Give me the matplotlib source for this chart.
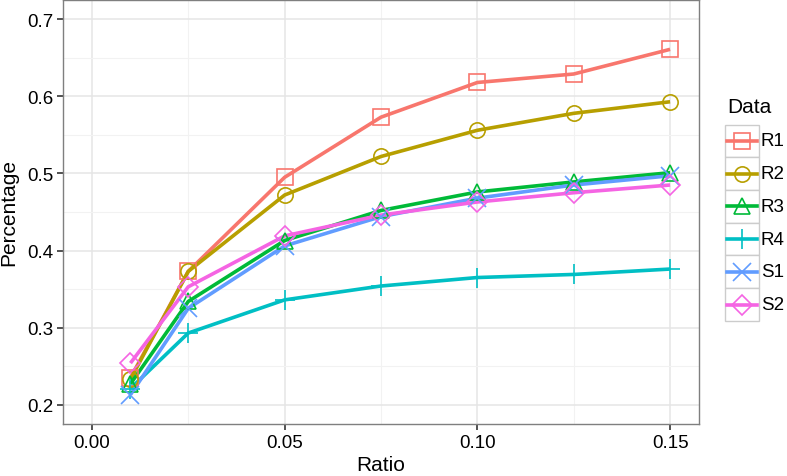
import matplotlib
matplotlib.use('Agg')
import matplotlib.pyplot as plt
from matplotlib.patches import Rectangle
from matplotlib.lines import Line2D

plt.rcParams['font.family'] = ['Liberation Sans', 'DejaVu Sans']

ratio = [0.01, 0.025, 0.05, 0.075, 0.10, 0.125, 0.15]
R1 = [0.235, 0.373, 0.495, 0.573, 0.618, 0.629, 0.661]
R2 = [0.233, 0.373, 0.472, 0.522, 0.556, 0.578, 0.593]
R3 = [0.227, 0.334, 0.413, 0.452, 0.476, 0.489, 0.501]
R4 = [0.221, 0.293, 0.336, 0.354, 0.365, 0.369, 0.376]
S1 = [0.213, 0.325, 0.406, 0.444, 0.468, 0.485, 0.497]
S2 = [0.254, 0.353, 0.419, 0.446, 0.463, 0.475, 0.485]

names = ['R1', 'R2', 'R3', 'R4', 'S1', 'S2']
series = [R1, R2, R3, R4, S1, S2]
colors = ['#F8766D', '#B79F00', '#00BA38', '#00BFC4', '#619CFF', '#F564E3']
markers = ['s', 'o', '^', '+', 'x', 'D']
msizes = [11, 11, 12, 15, 13, 10]

W, H = 787, 477
fig = plt.figure(figsize=(W / 100, H / 100), dpi=100)
ax = fig.add_axes([63 / W, 1 - 425 / H, (699 - 63) / W, (425 - 1) / H])

for name, vals, c in zip(names, series, colors):
    ax.plot(ratio, vals, color=c, lw=2.6, zorder=3, solid_capstyle='butt')
for name, vals, c, m, ms in zip(names, series, colors, markers, msizes):
    ax.plot(ratio, vals, ls='none', marker=m, ms=ms, mfc='none', mec=c,
            mew=1.2, zorder=4)

ax.set_xlim(-0.0075, 0.1575)
ax.set_ylim(0.175, 0.725)
ax.set_xticks([0.0, 0.05, 0.10, 0.15])
ax.set_xticklabels(['0.00', '0.05', '0.10', '0.15'])
ax.set_yticks([0.2, 0.3, 0.4, 0.5, 0.6, 0.7])
ax.set_xticks([0.025, 0.075, 0.125], minor=True)
ax.set_yticks([0.25, 0.35, 0.45, 0.55, 0.65], minor=True)
ax.grid(True, which='major', color='#E5E5E5', lw=1.1, zorder=0)
ax.grid(True, which='minor', color='#F2F2F2', lw=0.8, zorder=0)
ax.set_axisbelow(True)
ax.tick_params(which='major', length=4, width=1.2, color='#333333',
               labelsize=13.5, labelcolor='black', pad=3)
ax.tick_params(which='minor', length=0)
for s in ax.spines.values():
    s.set_color('#7F7F7F')
    s.set_linewidth(1.0)
ax.set_xlabel('Ratio', fontsize=15, labelpad=3)
ax.set_ylabel('Percentage', fontsize=15, labelpad=6)

# legend drawn by hand, ggplot style boxes
def fx(x):
    return x / W

def fy(y):
    return 1 - y / H

fig.text(fx(727), fy(108), 'Data', fontsize=15, va='center', ha='left')
step = 32.7
for i, (name, c, m, ms) in enumerate(zip(names, colors, markers, msizes)):
    yc = 142 + i * step
    fig.add_artist(Rectangle((fx(725), fy(yc + step / 2)), 34 / W, step / H,
                             transform=fig.transFigure, facecolor='white',
                             edgecolor='#CCCCCC', lw=1.0))
    fig.add_artist(Line2D([fx(727), fx(757)], [fy(yc), fy(yc)],
                          transform=fig.transFigure, color=c, lw=2.6))
    fig.add_artist(Line2D([fx(742)], [fy(yc)], transform=fig.transFigure,
                          ls='none', marker=m, ms=ms, mfc='none', mec=c,
                          mew=1.2))
    fig.text(fx(761), fy(yc), name, fontsize=13.5, va='center', ha='left')

fig.savefig('out.png', dpi=100)
